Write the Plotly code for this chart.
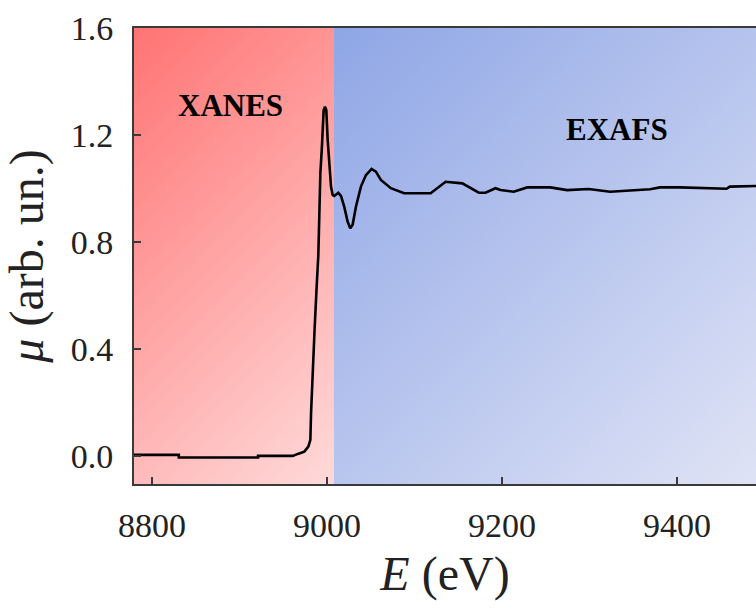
import numpy as np
import plotly.graph_objects as go

# X-ray absorption spectrum: energy (eV) and absorption mu (arb. un.)
energy = [8779.4, 8830.6, 8830.6, 8921.2, 8921.2, 8960.9, 8966.6, 8974.1, 8978.7,
          8981.0, 8981.8, 8983.7, 8985.8, 8988.0, 8990.1, 8991.2, 8992.4, 8994.0,
          8995.4, 8996.2, 8997.7, 8999.2, 9000.8, 9002.6, 9004.6, 9006.5, 9008.3,
          9012.9, 9016.0, 9019.7, 9023.6, 9026.6, 9029.3, 9033.1, 9038.8, 9044.5,
          9051.0, 9055.9, 9061.6, 9073.0, 9088.1, 9118.5, 9135.6, 9154.7, 9173.6,
          9181.2, 9192.6, 9198.3, 9213.5, 9228.8, 9255.3, 9274.4, 9299.0, 9323.7,
          9369.3, 9380.7, 9403.5, 9456.7, 9460.5, 9490.4]
mu = [0.004, 0.004, -0.006, -0.006, 0.0, 0.0, 0.0075, 0.016, 0.035,
      0.060, 0.161, 0.284, 0.471, 0.621, 0.751, 0.895, 1.057, 1.144,
      1.231, 1.293, 1.306, 1.293, 1.181, 1.081, 1.007, 0.976, 0.972,
      0.984, 0.972, 0.932, 0.876, 0.851, 0.864, 0.932, 1.007, 1.050,
      1.073, 1.063, 1.032, 1.001, 0.982, 0.982, 1.025, 1.019, 0.984,
      0.984, 1.001, 0.994, 0.988, 1.004, 1.004, 0.994, 0.998, 0.988,
      0.997, 1.004, 1.004, 0.999, 1.007, 1.009]

x_ticks = [8800, 9000, 9200, 9400]
y_ticks = [0.0, 0.4, 0.8, 1.2, 1.6]

# Region labels and the XANES / EXAFS boundary
region_names = ["XANES", "EXAFS"]
region_label_x = [8890, 9331]
region_label_y = [1.312, 1.222]
edge_split = 9008.0

X_RANGE = [8779.4, 9490.4]
Y_RANGE = [-0.105, 1.6]

W, H = 756, 610
M_L, M_R, M_T, M_B = 134, 0, 28, 126
PW, PH = W - M_L - M_R, H - M_T - M_B

SERIF = "Liberation Serif, Times New Roman, serif"
AXIS_COLOR = "#3a3a3a"


def diag_gradient(x0, x1, c_start, c_end, s_start, s_end, n=60):
    """Heatmap filling [x0, x1] x full y-range with a 45-degree (screen) gradient."""
    xe = np.linspace(x0, x1, n + 1)
    ye = np.linspace(Y_RANGE[0], Y_RANGE[1], n + 1)
    xc = 0.5 * (xe[:-1] + xe[1:])
    yc = 0.5 * (ye[:-1] + ye[1:])
    px = (xc - X_RANGE[0]) / (X_RANGE[1] - X_RANGE[0]) * PW
    py = (Y_RANGE[1] - yc) / (Y_RANGE[1] - Y_RANGE[0]) * PH
    z = px[None, :] + py[:, None]
    return go.Heatmap(
        x=xe, y=ye, z=z, zmin=s_start, zmax=s_end, zsmooth="best",
        colorscale=[[0, c_start], [1, c_end]], showscale=False,
        hoverinfo="skip",
    )


split_px = (edge_split - X_RANGE[0]) / (X_RANGE[1] - X_RANGE[0]) * PW

fig = go.Figure()
fig.add_trace(diag_gradient(X_RANGE[0], edge_split, "#FF7474", "#FFDADA",
                            0, split_px + PH))
fig.add_trace(diag_gradient(edge_split, X_RANGE[1], "#8FA6E6", "#DFE3F5",
                            split_px, PW + PH))

fig.add_trace(go.Scatter(
    x=energy, y=mu, mode="lines",
    line=dict(color="black", width=2.6),
    hoverinfo="skip", showlegend=False,
))

for name, lx, ly in zip(region_names, region_label_x, region_label_y):
    fig.add_annotation(
        x=lx, y=ly, text=f"<b>{name}</b>", showarrow=False,
        font=dict(family=SERIF, size=31, color="black"),
    )

fig.update_layout(
    width=W, height=H,
    margin=dict(l=M_L, r=M_R, t=M_T, b=M_B, autoexpand=False),
    paper_bgcolor="white", plot_bgcolor="white",
    showlegend=False,
    font=dict(family=SERIF, color="#222222"),
)

fig.update_xaxes(
    range=X_RANGE, tickvals=x_ticks, ticktext=[str(v) for v in x_ticks],
    showgrid=False, zeroline=False,
    showline=True, linecolor=AXIS_COLOR, linewidth=2, mirror=True,
    ticks="inside", ticklen=7, tickwidth=1.5, tickcolor=AXIS_COLOR,
    tickfont=dict(family=SERIF, size=34, color="#222222"),
    ticklabelstandoff=10,
    title=dict(text="<i>E</i> (eV)", font=dict(family=SERIF, size=48, color="#222222"),
               standoff=14),
    automargin=False,
)
fig.update_yaxes(
    range=Y_RANGE, tickvals=y_ticks, ticktext=[f"{v:.1f}" for v in y_ticks],
    showgrid=False, zeroline=False,
    showline=True, linecolor=AXIS_COLOR, linewidth=2, mirror=False,
    ticks="inside", ticklen=7, tickwidth=1.5, tickcolor=AXIS_COLOR,
    tickfont=dict(family=SERIF, size=34, color="#222222"),
    ticklabelstandoff=12,
    title=dict(text="<i>μ</i> (arb. un.)", font=dict(family=SERIF, size=48, color="#222222"),
               standoff=12),
    automargin=False,
)

fig.write_html("out.html")
